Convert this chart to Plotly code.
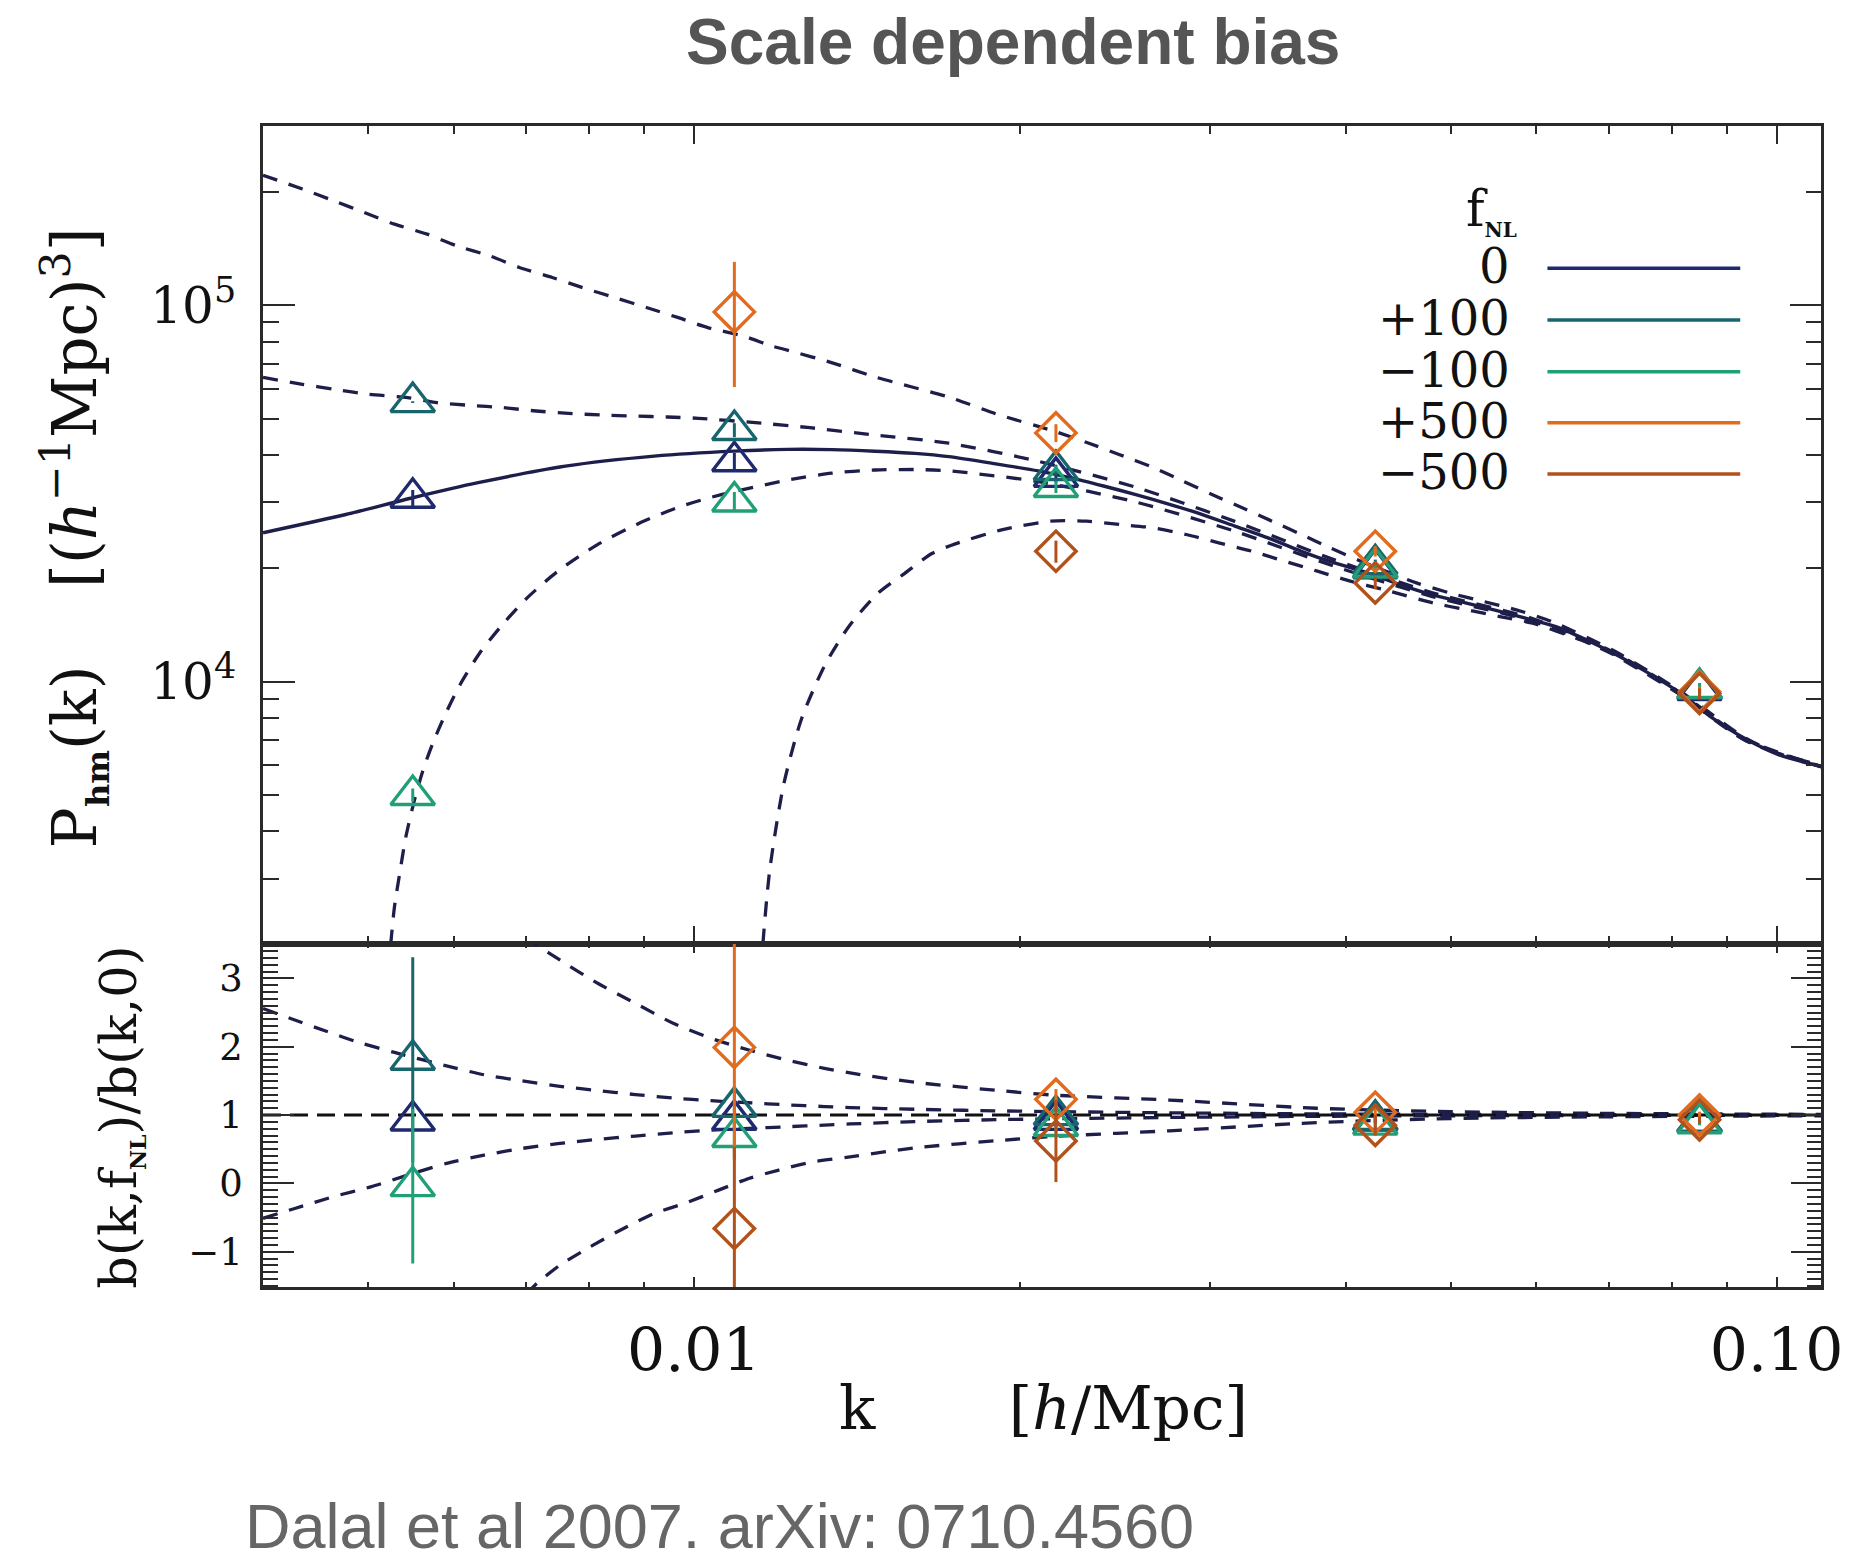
import math
import plotly.graph_objects as go

W, H = 1870, 1556

# ---------------- data ----------------
K_BINS = [0.0055, 0.0109, 0.0216, 0.0426, 0.0849]

# Upper panel model curves: P_hm(k) [(h^-1 Mpc)^3]
K_F0 = [0.0040, 0.00477, 0.0055, 0.00632, 0.00761, 0.00919, 0.0109, 0.0122, 0.0134, 0.0147,
        0.0160, 0.0172, 0.0190, 0.0208, 0.0223, 0.0239, 0.0256, 0.0275, 0.0295, 0.0316,
        0.0339, 0.0364, 0.0390, 0.0418, 0.0449, 0.0481, 0.0516, 0.0554, 0.0594, 0.0630,
        0.0660, 0.0707, 0.0759, 0.0814, 0.0873, 0.0936, 0.1004, 0.1100]
P_F0 = [24860, 27800, 30800, 33770, 37370, 39730, 40970, 41400, 41350, 40950,
        40400, 39600, 37900, 36300, 34800, 33100, 31400, 29600, 27800, 25900,
        24100, 22200, 20700, 19500, 18100, 17000, 16200, 15400, 14600, 13900,
        13100, 11900, 10600, 9350, 8000, 7050, 6400, 5950]

K_P100 = [0.0040, 0.00435, 0.00466, 0.0050, 0.00544, 0.00579, 0.00621, 0.00666, 0.00715, 0.00766,
          0.00822, 0.00882, 0.00945, 0.0101, 0.0114, 0.0128, 0.0147, 0.0172, 0.0208, 0.0256,
          0.0316, 0.0390, 0.0481, 0.0594, 0.0707, 0.0814, 0.0936, 0.1100]
P_P100 = [64300, 61650, 59790, 57990, 56830, 55110, 54200, 53450, 52360, 51630,
          51090, 50780, 50470, 50070, 48750, 47280, 45200, 43000, 38500, 32850,
          26650, 21100, 17230, 14740, 11980, 9370, 7030, 5960]

K_M100 = [0.00522, 0.00525, 0.00529, 0.00535, 0.00542, 0.00552, 0.00563, 0.00575, 0.00589, 0.00608,
          0.00634, 0.00666, 0.00700, 0.00748, 0.00814, 0.00894, 0.00972, 0.0106, 0.0122, 0.0134,
          0.0147, 0.0161, 0.0172, 0.0208, 0.0256, 0.0316, 0.0390, 0.0481, 0.0594, 0.0707,
          0.0814, 0.0936, 0.1100]
P_M100 = [1700, 2030, 2520, 3100, 3870, 4850, 5900, 6950, 8150, 9800,
          11900, 14200, 16600, 19600, 23100, 26500, 29200, 31400, 34300, 35800,
          36500, 36600, 36300, 34000, 30000, 25100, 20280, 16830, 14500, 11860,
          9290, 6990, 5950]

K_P500 = [0.0040, 0.00435, 0.00465, 0.00496, 0.00529, 0.00567, 0.00604, 0.00648, 0.0069, 0.0074,
          0.00788, 0.00845, 0.00904, 0.00966, 0.0103, 0.0111, 0.0118, 0.0122, 0.0134, 0.0147,
          0.0172, 0.0190, 0.0215, 0.0231, 0.0247, 0.0266, 0.0283, 0.0301, 0.0321, 0.0342,
          0.0364, 0.0387, 0.0413, 0.0465, 0.0499, 0.0535, 0.0574, 0.0620, 0.0707, 0.0814,
          0.0936, 0.1004, 0.1100]
P_P500 = [221500, 203500, 189400, 176400, 164200, 154500, 143800, 135200, 126000, 118500,
          111500, 104800, 98600, 92800, 87240, 82880, 77950, 76000, 70400, 64500,
          57000, 51500, 46300, 43130, 40150, 37010, 34100, 31430, 28970, 26690,
          24600, 22680, 20900, 18300, 17210, 16360, 15540, 14450, 12100, 9450,
          7080, 6450, 6000]

K_M500 = [0.01150, 0.01158, 0.01175, 0.01210, 0.01257, 0.01320, 0.01390, 0.01480, 0.01566, 0.01659,
          0.01741, 0.01924, 0.02136, 0.02307, 0.02474, 0.02655, 0.02848, 0.03054, 0.03275, 0.03513,
          0.03767, 0.04040, 0.04334, 0.04813, 0.05163, 0.05537, 0.05938, 0.0660, 0.0707, 0.0814,
          0.0936, 0.1100]
P_M500 = [1450, 2000, 3150, 5300, 7950, 11000, 14000, 17200, 19400, 21900,
          23200, 25300, 26690, 26690, 26150, 25630, 24600, 23380, 22220, 20890,
          19660, 18490, 17570, 16190, 15540, 14920, 14320, 12900, 11800, 9250,
          6980, 5940]

# Lower panel model curves: b(k,fNL)/b(k,0)
K_R0 = [0.0040, 0.1100]
R_F0 = [1.0, 1.0]

K_RP500 = [0.0070, 0.00716, 0.00752, 0.00815, 0.00883, 0.00957, 0.01037, 0.01124, 0.01218, 0.0132,
           0.0139, 0.0160, 0.0194, 0.0216, 0.0275, 0.0376, 0.0500, 0.0700, 0.1100]
R_P500 = [3.62, 3.489, 3.269, 2.928, 2.635, 2.343, 2.123, 1.952, 1.805, 1.684,
          1.62, 1.48, 1.35, 1.29, 1.22, 1.10, 1.05, 1.025, 1.01]

K_RP100 = [0.0040, 0.00428, 0.00457, 0.00491, 0.00528, 0.00591, 0.0064, 0.00694, 0.00752, 0.00815,
           0.00883, 0.00957, 0.01037, 0.01124, 0.01218, 0.0132, 0.01394, 0.0160, 0.0194, 0.0275,
           0.0376, 0.0500, 0.0700, 0.1100]
R_P100 = [2.56, 2.39, 2.23, 2.06, 1.92, 1.72, 1.59, 1.50, 1.42, 1.36,
          1.30, 1.25, 1.21, 1.18, 1.15, 1.125, 1.11, 1.085, 1.06, 1.033,
          1.018, 1.01, 1.005, 1.002]

K_RM100 = [0.0040, 0.00428, 0.00464, 0.00503, 0.0055, 0.00591, 0.0064, 0.00694, 0.00752, 0.00815,
           0.00883, 0.00957, 0.01037, 0.01124, 0.01218, 0.0132, 0.01394, 0.0160, 0.0194, 0.0275,
           0.0376, 0.0500, 0.0700, 0.1100]
R_M100 = [-0.51, -0.366, -0.196, -0.05, 0.146, 0.293, 0.414, 0.512, 0.586, 0.644,
          0.693, 0.741, 0.78, 0.805, 0.829, 0.854, 0.87, 0.905, 0.935, 0.965,
          0.982, 0.99, 0.995, 0.998]

K_RM500 = [0.0070, 0.00716, 0.00752, 0.00802, 0.00855, 0.00919, 0.0098, 0.01054, 0.01124, 0.01198,
           0.01288, 0.01394, 0.0160, 0.01935, 0.0216, 0.0275, 0.0376, 0.0500, 0.0700, 0.1100]
R_M500 = [-1.62, -1.464, -1.196, -0.928, -0.684, -0.439, -0.293, -0.098, 0.073, 0.195,
          0.316, 0.389, 0.52, 0.634, 0.69, 0.77, 0.89, 0.95, 0.975, 0.99]

# Measured points, upper panel
PT_F0 = [30800, 38500, 35000, 20000, 9500]
PT_F0_ERR = [1500, 2000, 1200, 600, 300]
PT_P100 = [55300, 46600, 36500, 20500, 9600]
PT_P100_ERR = [300, 2000, 1200, 600, 300]
PT_M100 = [5000, 30100, 32900, 20100, 9620]
PT_M100_ERR = [200, 1800, 1200, 600, 300]
K_PT_P500 = [0.0109, 0.0216, 0.0426, 0.0849]
PT_P500 = [96000, 45800, 22200, 9400]
PT_P500_ERR_HI = [34350, 2500, 700, 300]
PT_P500_ERR_LO = [35360, 2500, 700, 300]
K_PT_M500 = [0.0216, 0.0426, 0.0849]
PT_M500 = [22200, 18300, 9300]
PT_M500_ERR = [1500, 700, 300]

# Measured points, lower panel
RT_F0 = [0.92, 0.93, 0.93, 0.92, 0.90]
RT_F0_ERR = [0.0, 0.05, 0.05, 0.03, 0.02]
RT_P100 = [1.81, 1.12, 1.00, 0.93, 0.90]
RT_P100_ERR = [1.50, 0.30, 0.10, 0.05, 0.03]
RT_M100 = [-0.04, 0.68, 0.84, 0.86, 0.88]
RT_M100_ERR = [1.13, 0.30, 0.10, 0.05, 0.03]
K_RT_P500 = [0.0109, 0.0216, 0.0426, 0.0849]
RT_P500 = [1.99, 1.23, 1.04, 1.00]
RT_P500_ERR = [1.65, 0.15, 0.10, 0.05]
K_RT_M500 = [0.0109, 0.0216, 0.0426, 0.0849]
RT_M500 = [-0.66, 0.62, 0.85, 0.93]
RT_M500_ERR = [1.20, 0.60, 0.15, 0.05]

LEGEND_LABELS = ["0", "+100", "\u2212100", "+500", "\u2212500"]

# ---------------- styling ----------------
C_F0 = "#1f2a6e"
C_P100 = "#19656e"
C_M100 = "#21a077"
C_P500 = "#e26b1d"
C_M500 = "#b1521c"
LEG_COLORS = [C_F0, C_P100, C_M100, C_P500, C_M500]
C_CURVE = "#1d1e4a"
C_AX = "#2a2a2a"
SERIF = "DejaVu Serif"
DASH = "15px,12px"


def pxx(x):
    return x / W


def pxy(y):
    return 1 - y / H


X0, X1 = 266, 1842
Y_TOP, Y_MID, Y_BOT = 126, 943.5, 1287

fig = go.Figure()


def curve(x, y, ax, dash=DASH, color=C_CURVE, width=3.3):
    fig.add_trace(go.Scatter(x=x, y=y, mode="lines", xaxis=ax[0], yaxis=ax[1],
                             line=dict(color=color, width=width, dash=dash,
                                       shape="spline", smoothing=0.7),
                             showlegend=False, hoverinfo="skip"))


up = ("x", "y")
lo = ("x2", "y2")
curve(K_P500, P_P500, up)
curve(K_P100, P_P100, up)
curve(K_M100, P_M100, up)
curve(K_M500, P_M500, up)
curve(K_F0, P_F0, up, dash="solid", width=3.4)

curve(K_RP500, R_P500, lo)
curve(K_RP100, R_P100, lo)
curve(K_RM100, R_M100, lo)
curve(K_RM500, R_M500, lo)
curve(K_R0, R_F0, lo, dash="18px,9px", color="#111111", width=3.0)


def points(x, y, err_hi, err_lo, color, symbol, size, ax):
    fig.add_trace(go.Scatter(
        x=x, y=y, mode="markers", xaxis=ax[0], yaxis=ax[1],
        marker=dict(symbol=symbol, size=size, color=color,
                    line=dict(color=color, width=3.4)),
        error_y=dict(type="data", symmetric=False, array=err_hi, arrayminus=err_lo,
                     color=color, thickness=3, width=0),
        showlegend=False, hoverinfo="skip"))


TRI = "triangle-up-open"
DIA = "diamond-open"
TS, DS = 38, 31
points(K_BINS, PT_F0, PT_F0_ERR, PT_F0_ERR, C_F0, TRI, TS, up)
points(K_BINS, PT_P100, PT_P100_ERR, PT_P100_ERR, C_P100, TRI, TS, up)
points(K_BINS, PT_M100, PT_M100_ERR, PT_M100_ERR, C_M100, TRI, TS, up)
points(K_PT_P500, PT_P500, PT_P500_ERR_HI, PT_P500_ERR_LO, C_P500, DIA, DS, up)
points(K_PT_M500, PT_M500, PT_M500_ERR, PT_M500_ERR, C_M500, DIA, DS, up)

points(K_BINS, RT_F0, RT_F0_ERR, RT_F0_ERR, C_F0, TRI, TS, lo)
points(K_BINS, RT_P100, RT_P100_ERR, RT_P100_ERR, C_P100, TRI, TS, lo)
points(K_BINS, RT_M100, RT_M100_ERR, RT_M100_ERR, C_M100, TRI, TS, lo)
points(K_RT_P500, RT_P500, RT_P500_ERR, RT_P500_ERR, C_P500, DIA, DS, lo)
points(K_RT_M500, RT_M500, RT_M500_ERR, RT_M500_ERR, C_M500, DIA, DS, lo)

# ---------------- axes ----------------
XRANGE = [math.log10(0.004), math.log10(0.11)]
X_MINOR = [0.004, 0.005, 0.006, 0.007, 0.008, 0.009, 0.02, 0.03, 0.04, 0.05,
           0.06, 0.07, 0.08, 0.09]
Y_MINOR = [2000, 3000, 4000, 5000, 6000, 7000, 8000, 9000, 20000, 30000, 40000,
           50000, 60000, 70000, 80000, 90000, 200000, 300000]

common = dict(showgrid=False, zeroline=False, showline=True, linecolor=C_AX,
              linewidth=2.6, mirror="ticks", ticks="inside", tickcolor=C_AX,
              tickwidth=2.4)
dom_x = [pxx(X0), pxx(X1)]

fig.update_layout(
    xaxis=dict(common, domain=dom_x, anchor="y", type="log", range=XRANGE,
               tickvals=[0.01, 0.1], ticklen=18, showticklabels=False,
               minor=dict(tickmode="array", tickvals=X_MINOR, ticks="inside",
                          ticklen=8, tickwidth=2, tickcolor=C_AX)),
    yaxis=dict(common, domain=[pxy(Y_MID), pxy(Y_TOP)], anchor="x", type="log",
               range=[3.3045, 5.4761], tickvals=[1e4, 1e5],
               ticktext=["10<sup>4</sup>", "10<sup>5</sup>"], ticklen=32,
               tickfont=dict(family=SERIF, size=50, color="#111111"),
               ticklabelstandoff=14,
               minor=dict(tickmode="array", tickvals=Y_MINOR, ticks="inside",
                          ticklen=16, tickwidth=2.2, tickcolor=C_AX)),
    xaxis2=dict(common, domain=dom_x, anchor="y2", type="log", range=XRANGE,
                tickvals=[0.01, 0.1], ticktext=["0.01", "0.10"], ticklen=10,
                tickfont=dict(family=SERIF, size=60, color="#111111"),
                ticklabelstandoff=9,
                minor=dict(tickmode="array", tickvals=X_MINOR, ticks="inside",
                           ticklen=5, tickwidth=2, tickcolor=C_AX)),
    yaxis2=dict(common, domain=[pxy(Y_BOT), pxy(Y_MID)], anchor="x2",
                range=[-1.515, 3.51], tickvals=[-1, 0, 1, 2, 3], ticklen=31,
                tickfont=dict(family=SERIF, size=37, color="#111111"),
                ticklabelstandoff=10,
                minor=dict(tick0=0, dtick=0.1, ticks="inside", ticklen=15,
                           tickwidth=2, tickcolor=C_AX)),
)

# ---------------- text ----------------
ann = []
ann.append(dict(text="<b>Scale dependent bias</b>", x=pxx(1024), y=pxy(42),
                xanchor="center", yanchor="middle",
                font=dict(family="Liberation Sans", size=64, color="#555555")))
ann.append(dict(text="Dalal et al 2007. arXiv: 0710.4560", x=pxx(246), y=pxy(1526),
                xanchor="left", yanchor="middle",
                font=dict(family="Liberation Sans", size=63, color="#666666")))
ann.append(dict(text="P<sub><span style='font-size:32px'><b>hm</b></span></sub>(k)"
                     "\u00a0\u00a0\u00a0\u00a0[(<i>h</i><sup>\u2212</sup><sup>1</sup>Mpc)<sup>3</sup>]",
                x=pxx(74), y=pxy(538), textangle=-90, xanchor="center", yanchor="middle",
                font=dict(family=SERIF, size=61, color="#111111")))
ann.append(dict(text="b(k,f<sub><span style='font-size:22px'><b>NL</b></span></sub>)/b(k,0)",
                x=pxx(121), y=pxy(1117), textangle=-90, xanchor="center", yanchor="middle",
                font=dict(family=SERIF, size=51, color="#111111")))
ann.append(dict(text="k\u00a0\u00a0\u00a0\u00a0\u00a0\u00a0\u00a0[<i>h</i>/Mpc]",
                x=pxx(1055), y=pxy(1408), xanchor="center", yanchor="middle",
                font=dict(family=SERIF, size=60, color="#111111")))
ann.append(dict(text="f<sub><span style='font-size:20px'><b>NL</b></span></sub>",
                x=pxx(1536), y=pxy(211), xanchor="right", yanchor="middle",
                font=dict(family=SERIF, size=50, color="#111111")))

LEG_Y = [268.3, 320, 371.7, 422.7, 474]
shapes = []
for lab, col, ly in zip(LEGEND_LABELS, LEG_COLORS, LEG_Y):
    ann.append(dict(text=lab, x=pxx(1529), y=pxy(ly - 2), xanchor="right",
                    yanchor="middle",
                    font=dict(family=SERIF, size=48, color="#111111")))
    shapes.append(dict(type="line", xref="paper", yref="paper",
                       x0=pxx(1565), x1=pxx(1760), y0=pxy(ly), y1=pxy(ly),
                       line=dict(color=col, width=3.5)))

for a in ann:
    a.update(xref="paper", yref="paper", showarrow=False)

fig.update_layout(width=W, height=H, autosize=False,
                  margin=dict(l=0, r=0, t=0, b=0, pad=0),
                  paper_bgcolor="white", plot_bgcolor="white",
                  annotations=ann, shapes=shapes, showlegend=False)

fig.write_html("out.html")
